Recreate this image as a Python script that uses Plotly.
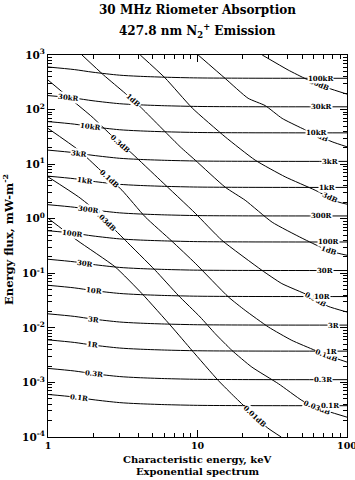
import math
import numpy as np
import plotly.graph_objects as go

# ---------------- data ----------------
# Emission yield (R per mW m^-2) versus characteristic energy (keV)
yield_energy_keV = [1, 1.5, 2, 3, 4, 6, 10, 20, 50, 100]
yield_R_per_flux = [166, 185, 207, 234, 245, 255, 263, 266, 267, 267]

emission_levels_R = [0.1, 0.3, 1, 3, 10, 30, 100, 300, 1e3, 3e3, 1e4, 3e4, 1e5]
emission_text = ["0.1R", "0.3R", "1R", "3R", "10R", "30R", "100R", "300R",
                 "1kR", "3kR", "10kR", "30kR", "100kR"]

# Absorption contours: energy (keV) and energy flux (mW m^-2) along each line
abs_30dB_E = [27.1, 40.4, 53.3, 74.8, 100]
abs_30dB_F = [1000, 531, 363, 248, 192]
abs_10dB_E = [10.1, 15.3, 21.8, 28.4, 36.8, 50.1, 79.5, 100]
abs_10dB_F = [1000, 373, 161, 118, 69.0, 45.2, 25.7, 20.8]
abs_3dB_E = [4.14, 6.08, 9.22, 15.3, 24.3, 38.6, 61.2, 87.2, 100]
abs_3dB_F = [1000, 378, 106.6, 31.7, 11.84, 5.85, 3.33, 2.03, 1.845]
abs_1dB_E = [1.688, 2.353, 3.286, 4.14, 7.662, 9.652, 15.32, 20.84, 31.58, 50.11, 69.21, 87.19, 100]
abs_1dB_F = [1000, 430, 198, 112.5, 20.8, 11.84, 3.78, 2.18, 0.863, 0.439, 0.288, 0.233, 0.214]
abs_03dB_E = [1.0, 1.447, 1.968, 2.691, 3.642, 5.632, 9.652, 14.56, 26.95, 36.66, 55.21, 74.77, 100]
abs_03dB_F = [348, 149, 73.8, 32.6, 15.72, 5.09, 1.262, 0.403, 0.1136, 0.0647, 0.0395, 0.0248, 0.0195]
abs_01dB_E = [1.0, 1.602, 2.237, 3.124, 4.471, 6.744, 9.652, 16.12, 20.84, 29.83, 42.76, 61.21, 77.09, 100]
abs_01dB_F = [45.2, 18.07, 7.76, 3.33, 1.079, 0.387, 0.153, 0.0367, 0.0209, 0.01035, 0.0059,
              0.00387, 0.0030, 0.00236]
abs_003dB_E = [1.0, 1.602, 2.072, 2.818, 3.286, 5.215, 7.43, 10.42, 13.13, 16.98, 23.10, 34.79,
               49.88, 61.21, 100]
abs_003dB_F = [5.85, 2.51, 1.432, 0.615, 0.403, 0.1136, 0.0395, 0.0158, 0.00783, 0.00387,
               0.00191, 0.000946, 0.000468, 0.000352, 0.000231]
abs_001dB_E = [1.0, 1.563, 2.818, 4.25, 6.744, 9.176, 13.75, 17.87, 29.24, 36.3]
abs_001dB_F = [1.021, 0.403, 0.1305, 0.0425, 0.01035, 0.00387, 0.00109, 0.000531, 0.000149, 0.0001]

absorption_text = ["30dB", "10dB", "3dB", "1dB", "0.3dB", "0.1dB", "0.03dB", "0.01dB"]
absorption_E = [abs_30dB_E, abs_10dB_E, abs_3dB_E, abs_1dB_E, abs_03dB_E, abs_01dB_E,
                abs_003dB_E, abs_001dB_E]
absorption_F = [abs_30dB_F, abs_10dB_F, abs_3dB_F, abs_1dB_F, abs_03dB_F, abs_01dB_F,
                abs_003dB_F, abs_001dB_F]

x_tick_text = ["1", "10", "100"]
y_tick_exp = [-4, -3, -2, -1, 0, 1, 2, 3]

# ---------------- label placement (style) ----------------
emis_left_E = [1.60, 2.02, 1.97, 2.02, 2.02, 1.775, 1.46, 1.87, 1.775, 1.60, 1.92, 1.37, None]
emis_right_E = [77.1, 69.5, 79.1, 80.7, 67.9, 71.4, 74.8, 67.9, 73.3, 77.1, 62.8, 67.9, 66.1]
abs_label_E = [[65.1], [64.4], [77.1], [3.73, 76.3], [3.04, 61.9], [2.57, 73.3], [2.42, 62.8], [24.3]]

W, H = 355, 480
ML, MR, MT, MB = 48, 8, 55, 43
XR = (0, 2)
YR = (-4, 3)
px_ratio = ((H - MT - MB) / (YR[1] - YR[0])) / ((W - ML - MR) / (XR[1] - XR[0]))

FONT = "DejaVu Serif"


def log_interp(Es, Fs, E):
    return float(np.interp(math.log10(E), np.log10(Es), np.log10(Fs)))


def angle_at(Es, Fs, E, h=0.07):
    le = math.log10(E)
    lx, ly = np.log10(Es), np.log10(Fs)
    a = max(le - h, lx[0])
    b = min(le + h, lx[-1])
    s = (np.interp(b, lx, ly) - np.interp(a, lx, ly)) / (b - a)
    return math.degrees(math.atan(-s * px_ratio))


fig = go.Figure()
abs_annots = []
emis_annots = []


def make_label(text, Es, Fs, E):
    return dict(
        x=math.log10(E), y=log_interp(Es, Fs, E), xref="x", yref="y",
        text="<b>%s</b>" % text, showarrow=False, bgcolor="white", borderpad=0,
        textangle=angle_at(Es, Fs, E), font=dict(family=FONT, size=7, color="black"),
        xanchor="center", yanchor="middle")


# emission lines
for lvl, txt, eL, eR in zip(emission_levels_R, emission_text, emis_left_E, emis_right_E):
    F = [lvl / y for y in yield_R_per_flux]
    fig.add_trace(go.Scatter(x=yield_energy_keV, y=F, mode="lines",
                             line=dict(color="black", width=1, shape="spline", smoothing=0.8),
                             hoverinfo="skip", showlegend=False))
    if eL is not None:
        emis_annots.append(make_label(txt, yield_energy_keV, F, eL))
    emis_annots.append(make_label(txt, yield_energy_keV, F, eR))

# absorption lines
for txt, Es, Fs, labs in zip(absorption_text, absorption_E, absorption_F, abs_label_E):
    fig.add_trace(go.Scatter(x=Es, y=Fs, mode="lines",
                             line=dict(color="black", width=1, shape="spline", smoothing=0.5),
                             hoverinfo="skip", showlegend=False))
    for e in labs:
        abs_annots.append(make_label(txt, Es, Fs, e))

ph = H - MT - MB
pw = W - ML - MR


def py(ypix):
    return (H - MB - ypix) / ph


def px(xpix):
    return (xpix - ML) / pw


text_annots = [
    dict(x=0.5, y=py(10), xref="paper", yref="paper", text="<b>30 MHz Riometer Absorption</b>",
         showarrow=False, font=dict(family=FONT, size=12, color="black"), yanchor="middle"),
    dict(x=0.5, y=py(31), xref="paper", yref="paper",
         text="<b>427.8 nm N<sub>2</sub><sup>+</sup> Emission</b>",
         showarrow=False, font=dict(family=FONT, size=12, color="black"), yanchor="middle"),
    dict(x=0.5, y=py(460), xref="paper", yref="paper", text="<b>Characteristic energy, keV</b>",
         showarrow=False, font=dict(family=FONT, size=10, color="black"), yanchor="middle"),
    dict(x=0.5, y=py(472), xref="paper", yref="paper", text="<b>Exponential spectrum</b>",
         showarrow=False, font=dict(family=FONT, size=10, color="black"), yanchor="middle"),
    dict(x=px(8), y=py(240), xref="paper", yref="paper",
         text="<b>Energy flux, mW-m<sup>-2</sup></b>",
         textangle=-90, showarrow=False, font=dict(family=FONT, size=11.5, color="black"),
         xanchor="center", yanchor="middle"),
]

x_minor = [m * 10 ** d for d in range(0, 2) for m in range(2, 10)]
y_minor = [m * 10.0 ** d for d in range(-4, 3) for m in range(2, 10)]

fig.update_layout(
    width=W, height=H, margin=dict(l=ML, r=MR, t=MT, b=MB, pad=0),
    paper_bgcolor="white", plot_bgcolor="white",
    annotations=abs_annots + emis_annots + text_annots,
    xaxis=dict(type="log", range=list(XR), tickvals=[1, 10, 100],
               ticktext=["<b>%s</b>" % t for t in x_tick_text],
               ticks="inside", ticklen=7, tickwidth=1, tickcolor="black",
               mirror="allticks", showline=True, linecolor="black", linewidth=1,
               showgrid=False, zeroline=False, automargin=False,
               ticklabeloverflow="allow",
               tickfont=dict(family=FONT, size=9.5, color="black"),
               minor=dict(tickvals=x_minor, ticks="inside", ticklen=4, tickwidth=1,
                          tickcolor="black", showgrid=False)),
    yaxis=dict(type="log", range=list(YR), tickvals=[10.0 ** k for k in y_tick_exp],
               ticktext=["<b>10<sup>%d</sup></b>" % k for k in y_tick_exp],
               ticks="inside", ticklen=7, tickwidth=1, tickcolor="black",
               mirror="allticks", showline=True, linecolor="black", linewidth=1,
               showgrid=False, zeroline=False, automargin=False,
               ticklabeloverflow="allow",
               tickfont=dict(family=FONT, size=10.5, color="black"),
               minor=dict(tickvals=y_minor, ticks="inside", ticklen=4, tickwidth=1,
                          tickcolor="black", showgrid=False)),
)

fig.write_html("out.html")
